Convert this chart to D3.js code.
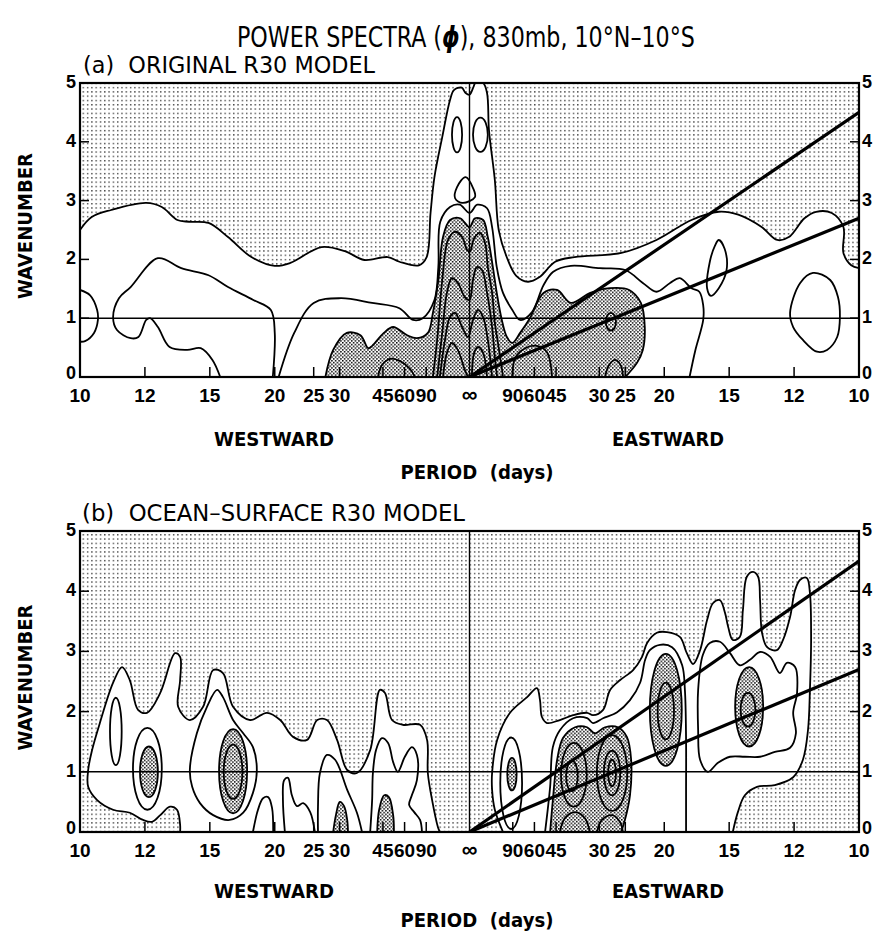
<!DOCTYPE html>
<html>
<head>
<meta charset="utf-8">
<script src="https://cdn.jsdelivr.net/npm/d3@7"></script>
<style>
  body { margin: 0; background: #fff; }
  svg { display: block; }
  .cond { font-family: "Liberation Sans Narrow", "Arial Narrow", "DejaVu Sans Condensed", sans-serif; white-space: pre; }
  .tick { font-family: "Liberation Sans", Arial, sans-serif; font-weight: bold; }
  .axisname { font-family: "DejaVu Sans", Verdana, sans-serif; font-weight: bold; white-space: pre; }
</style>
</head>
<body>
<svg id="fig" width="873" height="931"></svg>
<script>
// ---------- axis values ----------
const periods = [10, 12, 15, 20, 25, 30, 45, 60, 90];   // days, both directions
const wavenumbers = [0, 1, 2, 3, 4, 5];
const kelvinEnds = [4.5, 2.7];                          // wavenumber reached at 0.1 cycles/day

// ---------- (a) original R30 model: contours as [frequency (cpd, + = eastward), wavenumber] ----------
const aBoundary = [[-0.100,2.50],[-0.097,2.72],[-0.092,2.84],[-0.083,2.96],[-0.079,2.89],[-0.075,2.67],[-0.072,2.64],[-0.067,2.62],[-0.062,2.38],[-0.056,2.04],[-0.050,1.89],[-0.046,1.94],[-0.038,2.21],[-0.032,2.14],[-0.027,1.99],[-0.021,2.04],[-0.018,1.96],[-0.013,1.90],[-0.011,2.04],[-0.010,2.79],[-0.009,3.40],[-0.007,4.08],[-0.005,4.71],[-0.004,4.88],[-0.002,4.92],[-0.001,4.83],[0.000,4.80],[0.001,4.93],[0.0015,5],[0.0035,5],[0.0045,4.83],[0.005,4.20],[0.0065,3.35],[0.0075,2.50],[0.0095,2.05],[0.012,1.72],[0.015,1.62],[0.018,1.70],[0.022,1.96],[0.027,2.04],[0.039,2.11],[0.048,2.33],[0.057,2.67],[0.064,2.81],[0.069,2.76],[0.075,2.55],[0.079,2.33],[0.082,2.38],[0.086,2.70],[0.089,2.81],[0.093,2.79],[0.096,2.55],[0.096,2.11],[0.098,1.90],[0.100,1.85]];
const aSecond = [[-0.049,0],[-0.045,0.75],[-0.040,1.26],[-0.033,1.34],[-0.025,1.26],[-0.018,1.17],[-0.0145,0.97],[-0.012,1.00],[-0.009,1.31],[-0.008,1.87],[-0.0075,2.64],[-0.005,2.89],[-0.0025,2.93],[0.000,2.79],[0.002,2.93],[0.0045,2.87],[0.0058,2.55],[0.007,1.87],[0.0086,1.43],[0.011,1.14],[0.013,0.97],[0.016,1.10],[0.019,1.56],[0.0215,1.79],[0.026,1.89],[0.0335,1.85],[0.040,1.82],[0.0445,1.60],[0.048,1.45],[0.0515,1.60],[0.054,1.68],[0.057,1.51],[0.059,1.45],[0.060,1.22],[0.060,0.97],[0.058,0.46],[0.0565,0]];
const aWestArch = [[-0.064,0],[-0.066,0.29],[-0.069,0.49],[-0.0725,0.46],[-0.077,0.51],[-0.080,0.85],[-0.082,1.00],[-0.083,0.97],[-0.085,0.68],[-0.087,0.66],[-0.0905,0.80],[-0.0915,1.02],[-0.090,1.34],[-0.087,1.53],[-0.080,2.02],[-0.074,1.85],[-0.067,1.73],[-0.062,1.53],[-0.0555,1.31],[-0.051,1.14],[-0.050,0.75],[-0.0505,0]];
const aEdgeLobe = [[-0.100,1.48],[-0.0974,1.39],[-0.0956,1.14],[-0.0954,0.97],[-0.0964,0.75],[-0.0987,0.61],[-0.100,0.60]];
const aPear = [[-0.001,3.40],[0.001,3.20],[0.0014,3.06],[-0.0018,2.96],[-0.0037,3.04],[-0.0032,3.23]];
const aLoop = [[0.061,1.51],[0.0617,1.96],[0.063,2.23],[0.064,2.33],[0.0655,2.18],[0.066,1.82],[0.064,1.51],[0.062,1.38]];
const aEastOval = [[0.0823,1.09],[0.0849,1.60],[0.0882,1.77],[0.0926,1.65],[0.0946,1.36],[0.0951,1.02],[0.0944,0.68],[0.0918,0.46],[0.0892,0.43],[0.0856,0.63],[0.0831,0.85]];
// ovals: [centre frequency, centre wavenumber, half-width (cpd), half-height (wavenumber)]
const aOvals = [[-0.0032,4.12,0.0013,0.30],[0.0028,4.12,0.0019,0.29],[0.0363,0.94,0.0013,0.15]];
const aCore = [[-0.037,0],[-0.035,0.46],[-0.0315,0.75],[-0.028,0.71],[-0.026,0.49],[-0.025,0.53],[-0.022,0.75],[-0.0196,0.85],[-0.016,0.71],[-0.0135,0.66],[-0.0107,0.75],[-0.0094,1.09],[-0.008,1.65],[-0.0068,2.38],[-0.005,2.67],[-0.0024,2.70],[0,2.55],[0.0014,2.70],[0.0035,2.67],[0.0047,2.38],[0.006,1.87],[0.007,1.43],[0.0083,0.97],[0.0096,0.68],[0.011,0.58],[0.013,0.75],[0.0155,1.00],[0.019,1.43],[0.0225,1.48],[0.026,1.26],[0.031,1.43],[0.036,1.51],[0.041,1.48],[0.044,1.26],[0.045,0.85],[0.0445,0.46],[0.043,0.24],[0.040,0]];
const aRidges = [
  [[-0.0094,0],[-0.0083,0.63],[-0.007,1.65],[-0.0055,2.33],[-0.0037,2.47],[-0.0019,2.38],[-0.0006,2.16],[0.0001,2.13],[0.0012,2.36],[0.0027,2.45],[0.004,2.28],[0.0047,1.87],[0.0058,1.43],[0.0065,0.92],[0.0073,0.58],[0.0083,0.15],[0.0086,0]],
  [[-0.0083,0],[-0.007,0.75],[-0.0058,1.43],[-0.0045,1.68],[-0.003,1.60],[-0.0012,1.36],[0,1.31],[0.0009,1.65],[0.0019,1.87],[0.0032,1.82],[0.0045,1.43],[0.0058,0.85],[0.0065,0.34],[0.0071,0]],
  [[-0.0076,0],[-0.0063,0.63],[-0.005,1.02],[-0.0037,1.09],[-0.0019,0.85],[-0.0004,0.68],[0.0009,0.97],[0.0022,1.14],[0.0035,1.02],[0.0047,0.63],[0.0058,0]],
  [[-0.0068,0],[-0.0058,0.41],[-0.0045,0.58],[-0.003,0.46],[-0.0012,0.12],[-0.0004,0]],
  [[0.0006,0],[0.0012,0.41],[0.0022,0.51],[0.0035,0.41],[0.0045,0]],
  [[-0.0235,0],[-0.0225,0.20],[-0.0204,0.31],[-0.0178,0.27],[-0.0153,0.14],[-0.014,0]],
  [[0.011,0],[0.0117,0.32],[0.0143,0.49],[0.0173,0.53],[0.0199,0.42],[0.0212,0]],
  [[0.0348,0],[0.0358,0.20],[0.0374,0.29],[0.0389,0.19],[0.0394,0]]
];

// ---------- (b) ocean-surface R30 model ----------
const bOuterWest = [[-0.0743,0],[-0.0743,0.12],[-0.0751,0.37],[-0.0769,0.42],[-0.0794,0.28],[-0.0815,0.17],[-0.0838,0.20],[-0.0872,0.32],[-0.0915,0.37],[-0.0956,0.53],[-0.0979,0.75],[-0.0979,1.03],[-0.0969,1.36],[-0.0949,1.81],[-0.0915,2.48],[-0.0892,2.74],[-0.0872,2.52],[-0.0851,2.03],[-0.0828,1.98],[-0.0794,2.31],[-0.0756,2.97],[-0.0743,2.91],[-0.0743,2.52],[-0.0748,2.08],[-0.0718,1.86],[-0.0684,2.08],[-0.0658,2.69],[-0.0633,2.64],[-0.0607,2.08],[-0.0563,1.86],[-0.0520,1.98],[-0.0486,1.86],[-0.0453,1.58],[-0.0417,1.53],[-0.0391,1.86],[-0.0366,1.86],[-0.0340,1.53],[-0.0314,1.03],[-0.0289,0.98],[-0.0255,1.36],[-0.0230,2.36],[-0.0217,2.31],[-0.0199,1.86],[-0.0171,1.78],[-0.0127,1.78],[-0.0109,1.53],[-0.0107,0.98],[-0.0096,0.53],[-0.0081,0.08],[-0.0076,0]];
const bOuterEast = [[0.0086,0],[0.0065,0.37],[0.0058,0.70],[0.0058,0.98],[0.0071,1.53],[0.0104,1.98],[0.0148,2.24],[0.0173,2.39],[0.0181,2.19],[0.0186,1.91],[0.0199,1.81],[0.0232,1.86],[0.0266,1.94],[0.0302,1.98],[0.0317,1.94],[0.0343,2.03],[0.0361,2.36],[0.0386,2.52],[0.0420,2.69],[0.0443,2.91],[0.0456,3.14],[0.0481,3.31],[0.0507,3.32],[0.0540,3.24],[0.0558,2.97],[0.0574,2.79],[0.0592,3.02],[0.0610,3.52],[0.0625,3.80],[0.0643,3.85],[0.0656,3.64],[0.0664,3.41],[0.0676,3.19],[0.0694,3.24],[0.0702,3.69],[0.0712,4.24],[0.0728,4.32],[0.0741,4.24],[0.0746,3.85],[0.0751,3.31],[0.0764,3.07],[0.0789,3.02],[0.0805,3.19],[0.0823,3.57],[0.0836,4.02],[0.0849,4.19],[0.0866,4.22],[0.0874,3.97],[0.0877,3.19],[0.0874,2.36],[0.0869,1.69],[0.0856,1.20],[0.0831,0.91],[0.0784,0.78],[0.0738,0.75],[0.0707,0.61],[0.0689,0.33],[0.0676,0]];
const bLoop16 = [[-0.0718,1.03],[-0.0700,1.64],[-0.0674,2.08],[-0.0648,2.36],[-0.0633,2.24],[-0.0607,1.86],[-0.0581,1.64],[-0.0556,1.41],[-0.0546,1.03],[-0.0556,0.65],[-0.0581,0.32],[-0.0616,0.20],[-0.0658,0.28],[-0.0692,0.48],[-0.0712,0.75]];
const bLoop14 = [[0.0599,2.94],[0.0617,3.14],[0.0643,3.16],[0.0669,2.97],[0.0694,2.77],[0.0720,2.86],[0.0746,2.99],[0.0772,2.91],[0.0797,2.64],[0.0815,2.81],[0.0836,2.74],[0.0841,2.31],[0.0831,1.98],[0.0838,1.64],[0.0823,1.40],[0.0784,1.33],[0.0746,1.25],[0.0707,1.25],[0.0669,1.25],[0.0638,1.15],[0.0612,1.00],[0.0592,1.20],[0.0587,1.69],[0.0587,2.36]];
const bLines = [
  [[-0.0556,0],[-0.0543,0.37],[-0.0530,0.56],[-0.0517,0.58],[-0.0507,0.40],[-0.0504,0]],
  [[-0.0474,0],[-0.0479,0.53],[-0.0476,0.86],[-0.0466,0.90],[-0.0456,0.61],[-0.0443,0.43],[-0.0427,0.48],[-0.0409,0.33],[-0.0397,0]],
  [[-0.0389,0],[-0.0389,0.42],[-0.0384,0.98],[-0.0366,1.28],[-0.0345,1.20],[-0.0314,0.70],[-0.0289,0.32],[-0.0276,0]],
  [[-0.0255,0],[-0.0250,0.53],[-0.0248,0.98],[-0.0240,1.36],[-0.0225,1.56],[-0.0209,1.48],[-0.0196,1.16],[-0.0184,1.00],[-0.0166,1.25],[-0.0148,1.41],[-0.0135,1.28],[-0.0135,0.86],[-0.0148,0.61],[-0.0155,0.45],[-0.0142,0.33],[-0.0127,0.20],[-0.0122,0]],
  [[0.0194,0],[0.0207,0.75],[0.0214,1.41],[0.0232,1.69],[0.0266,1.89],[0.0302,1.89],[0.0317,1.81],[0.0343,1.89],[0.0379,1.99],[0.0412,2.19],[0.0438,2.48],[0.0451,2.86],[0.0463,3.02],[0.0489,3.11],[0.0520,3.07],[0.0546,2.77],[0.0553,2.36],[0.0556,1.53],[0.0556,0.70],[0.0556,0]],
  [[0.0232,0],[0.0245,0.23],[0.0271,0.33],[0.0296,0.23],[0.0309,0]],
  [[0.0327,0],[0.0340,0.20],[0.0366,0.28],[0.0386,0.17],[0.0394,0]]
];
const bDense = [
  [[-0.0350,0],[-0.0343,0.28],[-0.0333,0.50],[-0.0322,0.43],[-0.0314,0.20],[-0.0312,0]],
  [[-0.0237,0],[-0.0232,0.37],[-0.0219,0.61],[-0.0207,0.58],[-0.0196,0.28],[-0.0194,0]],
  [[0.0207,0],[0.0214,0.53],[0.0225,1.20],[0.0240,1.56],[0.0271,1.74],[0.0302,1.74],[0.0322,1.64],[0.0348,1.74],[0.0381,1.74],[0.0404,1.58],[0.0415,1.20],[0.0412,0.61],[0.0399,0.20],[0.0389,0]]
];
const bDenseOvals = [[-0.0823,1.00,0.0023,0.42],[-0.0607,1.01,0.0036,0.70],[0.0109,0.96,0.0012,0.27],[0.0504,2.03,0.0041,0.93],[0.0718,2.08,0.0036,0.66]];
const bOvals = [[-0.0908,1.67,0.0015,0.56],[-0.0827,1.05,0.0037,0.68],[-0.0607,1.00,0.0024,0.45],[0.0107,0.81,0.0028,0.76],
  [0.0268,0.95,0.0033,0.53],[0.0263,0.93,0.0015,0.25],[0.0366,0.98,0.0039,0.63],[0.0366,0.98,0.0021,0.37],[0.0366,0.98,0.0010,0.22],
  [0.0504,2.01,0.0021,0.47],[0.0715,2.03,0.0019,0.28]];

// ---------- drawing ----------
const svg = d3.select('#fig');
const defs = svg.append('defs');

const light = defs.append('pattern').attr('id', 'lightDots').attr('patternUnits', 'userSpaceOnUse')
  .attr('width', 4.3).attr('height', 4.3);
light.append('rect').attr('width', 4.3).attr('height', 4.3).attr('fill', '#fff');
light.append('rect').attr('x', 1).attr('y', 1).attr('width', 1.2).attr('height', 1.2).attr('fill', '#000');

const dense = defs.append('pattern').attr('id', 'denseDots').attr('patternUnits', 'userSpaceOnUse')
  .attr('width', 3.6).attr('height', 3.6);
dense.append('rect').attr('width', 3.6).attr('height', 3.6).attr('fill', '#fff');
dense.append('rect').attr('x', 0).attr('y', 0).attr('width', 1.5).attr('height', 1.5).attr('fill', '#000');
dense.append('rect').attr('x', 1.8).attr('y', 1.8).attr('width', 1.5).attr('height', 1.5).attr('fill', '#000');

const x = d3.scaleLinear().domain([-0.1, 0.1]).range([80, 859]);

// figure title, condensed horizontally to its printed width
const title = svg.append('text').attr('class', 'cond').attr('font-size', 28);
title.append('tspan').text('POWER SPECTRA (');
title.append('tspan').attr('font-weight', 'bold').attr('font-style', 'italic').text('\u03D5');
title.append('tspan').text('), 830mb, 10\u00B0N\u201310\u00B0S');
const titleWidth = title.node().getComputedTextLength();
const titleScale = 458 / titleWidth;
title.attr('transform', `translate(${466 - 229},47) scale(${titleScale},1)`);

function drawPanel(spec) {
  const y = d3.scaleLinear().domain([0, 5]).range([spec.bottom, spec.top]);
  const open = d3.line().x(d => x(d[0])).y(d => y(d[1])).curve(d3.curveCatmullRom.alpha(0.5));
  const closed = d3.line().x(d => x(d[0])).y(d => y(d[1])).curve(d3.curveCatmullRomClosed.alpha(0.5));
  const region = p => open(p) + `L${x(p[p.length - 1][0])},${y(0)}L${x(p[0][0])},${y(0)}Z`;
  const ellipse = (sel, o) => sel.attr('cx', x(o[0])).attr('cy', y(o[1]))
    .attr('rx', x(o[0] + o[2]) - x(o[0])).attr('ry', y(o[1] - o[3]) - y(o[1]));

  defs.append('clipPath').attr('id', 'clip' + spec.key).append('rect')
    .attr('x', x(-0.1)).attr('y', y(5)).attr('width', x(0.1) - x(-0.1)).attr('height', y(0) - y(5));

  const g = svg.append('g');
  const plot = g.append('g').attr('clip-path', `url(#clip${spec.key})`);

  plot.append('rect').attr('x', x(-0.1)).attr('y', y(5))
    .attr('width', x(0.1) - x(-0.1)).attr('height', y(0) - y(5)).attr('fill', 'url(#lightDots)');

  plot.selectAll('path.white').data(spec.white).join('path').attr('class', 'white')
    .attr('d', region).attr('fill', '#fff');
  plot.selectAll('path.dense').data(spec.dense).join('path').attr('class', 'dense')
    .attr('d', region).attr('fill', 'url(#denseDots)');
  plot.selectAll('ellipse.dense').data(spec.denseOvals).join('ellipse').attr('class', 'dense')
    .call(s => s.each(function (o) { ellipse(d3.select(this), o); }))
    .attr('fill', 'url(#denseDots)').attr('stroke', '#000').attr('stroke-width', 1.8);

  const stroke = sel => sel.attr('fill', 'none').attr('stroke', '#000').attr('stroke-width', 1.8)
    .attr('stroke-linejoin', 'round');
  plot.selectAll('path.edge').data(spec.white.concat(spec.dense, spec.lines)).join('path')
    .attr('class', 'edge').attr('d', open).call(stroke);
  plot.selectAll('path.loop').data(spec.loops).join('path')
    .attr('class', 'loop').attr('d', closed).call(stroke);
  plot.selectAll('ellipse.line').data(spec.ovals).join('ellipse').attr('class', 'line')
    .call(s => s.each(function (o) { ellipse(d3.select(this), o); })).call(stroke);

  // reference lines: wavenumber 1 and zero frequency
  plot.append('line').attr('x1', x(-0.1)).attr('x2', x(0.1)).attr('y1', y(1)).attr('y2', y(1))
    .attr('stroke', '#000').attr('stroke-width', 1.6);
  plot.append('line').attr('x1', x(0)).attr('x2', x(0)).attr('y1', y(0)).attr('y2', y(5))
    .attr('stroke', '#000').attr('stroke-width', 1.4);
  // Kelvin-wave dispersion lines from the origin
  plot.selectAll('line.kelvin').data(kelvinEnds).join('line').attr('class', 'kelvin')
    .attr('x1', x(0)).attr('y1', y(0)).attr('x2', x(0.1)).attr('y2', k => y(k))
    .attr('stroke', '#000').attr('stroke-width', 3.2);

  // frame
  g.append('rect').attr('x', x(-0.1)).attr('y', y(5))
    .attr('width', x(0.1) - x(-0.1)).attr('height', y(0) - y(5))
    .attr('fill', 'none').attr('stroke', '#000').attr('stroke-width', 2.2);

  // wavenumber ticks and labels on both sides
  const inner = wavenumbers.filter(k => k > 0 && k < 5);
  const labelY = k => y(k) + (k === 0 ? 2 : 5);
  g.selectAll('line.yl').data(inner).join('line').attr('class', 'yl')
    .attr('x1', x(-0.1)).attr('x2', x(-0.1) + 9).attr('y1', k => y(k)).attr('y2', k => y(k))
    .attr('stroke', '#000').attr('stroke-width', 1.5);
  g.selectAll('line.yr').data(inner).join('line').attr('class', 'yr')
    .attr('x1', x(0.1)).attr('x2', x(0.1) - 9).attr('y1', k => y(k)).attr('y2', k => y(k))
    .attr('stroke', '#000').attr('stroke-width', 1.5);
  g.selectAll('text.yl').data(wavenumbers).join('text').attr('class', 'tick yl')
    .attr('x', x(-0.1) - 4).attr('y', labelY).attr('text-anchor', 'end')
    .attr('font-size', 18).text(k => k);
  g.selectAll('text.yr').data(wavenumbers).join('text').attr('class', 'tick yr')
    .attr('x', x(0.1) + 3).attr('y', labelY).attr('text-anchor', 'start')
    .attr('font-size', 18).text(k => k);

  // period ticks: westward on the left, eastward on the right
  const ticks = periods.map(p => ({ f: -1 / p, label: String(p) }))
    .concat([{ f: 0, label: '\u221E' }], periods.map(p => ({ f: 1 / p, label: String(p) })));
  g.selectAll('line.xt').data(ticks.filter(t => Math.abs(t.f) < 0.099 && t.f !== 0)).join('line')
    .attr('class', 'xt').attr('x1', t => x(t.f)).attr('x2', t => x(t.f))
    .attr('y1', y(0)).attr('y2', y(0) - 10).attr('stroke', '#000').attr('stroke-width', 1.5);
  g.selectAll('text.xt').data(ticks).join('text').attr('class', 'tick xt')
    .attr('x', t => x(t.f)).attr('y', y(0) + 25).attr('text-anchor', 'middle')
    .attr('font-size', t => t.f === 0 ? 22 : 19).text(t => t.label);

  // names
  g.append('text').attr('class', 'cond').attr('x', spec.labelX).attr('y', y(5) - 10)
    .attr('font-size', 23).attr('textLength', spec.labelLen).attr('lengthAdjust', 'spacingAndGlyphs')
    .text(spec.label);
  const midY = (y(0) + y(5)) / 2;
  g.append('text').attr('class', 'axisname').attr('font-size', 20)
    .attr('transform', `translate(32,${midY - 4}) rotate(-90)`).attr('text-anchor', 'middle')
    .attr('textLength', 146).attr('lengthAdjust', 'spacingAndGlyphs').text('WAVENUMBER');
  g.append('text').attr('class', 'axisname').attr('font-size', 19)
    .attr('x', 274).attr('y', y(0) + spec.dirOffset).attr('text-anchor', 'middle')
    .attr('textLength', 120).attr('lengthAdjust', 'spacingAndGlyphs').text('WESTWARD');
  g.append('text').attr('class', 'axisname').attr('font-size', 19)
    .attr('x', 668).attr('y', y(0) + spec.dirOffset).attr('text-anchor', 'middle')
    .attr('textLength', 112).attr('lengthAdjust', 'spacingAndGlyphs').text('EASTWARD');
  g.append('text').attr('class', 'axisname').attr('font-size', 19)
    .attr('x', 477).attr('y', y(0) + spec.periodOffset).attr('text-anchor', 'middle')
    .attr('textLength', 153).attr('lengthAdjust', 'spacingAndGlyphs').text('PERIOD  (days)');
}

drawPanel({
  key: 'a', top: 83, bottom: 377, label: '(a)  ORIGINAL R30 MODEL', labelX: 83, labelLen: 292,
  dirOffset: 69, periodOffset: 102,
  white: [aBoundary], dense: [aCore], denseOvals: [],
  lines: [aSecond, aWestArch, aEdgeLobe].concat(aRidges),
  loops: [aPear, aLoop, aEastOval], ovals: aOvals
});
drawPanel({
  key: 'b', top: 531, bottom: 832, label: '(b)  OCEAN\u2013SURFACE R30 MODEL', labelX: 82, labelLen: 383,
  dirOffset: 66, periodOffset: 95,
  white: [bOuterWest, bOuterEast], dense: bDense, denseOvals: bDenseOvals,
  lines: bLines, loops: [bLoop16, bLoop14], ovals: bOvals
});
</script>
</body>
</html>
